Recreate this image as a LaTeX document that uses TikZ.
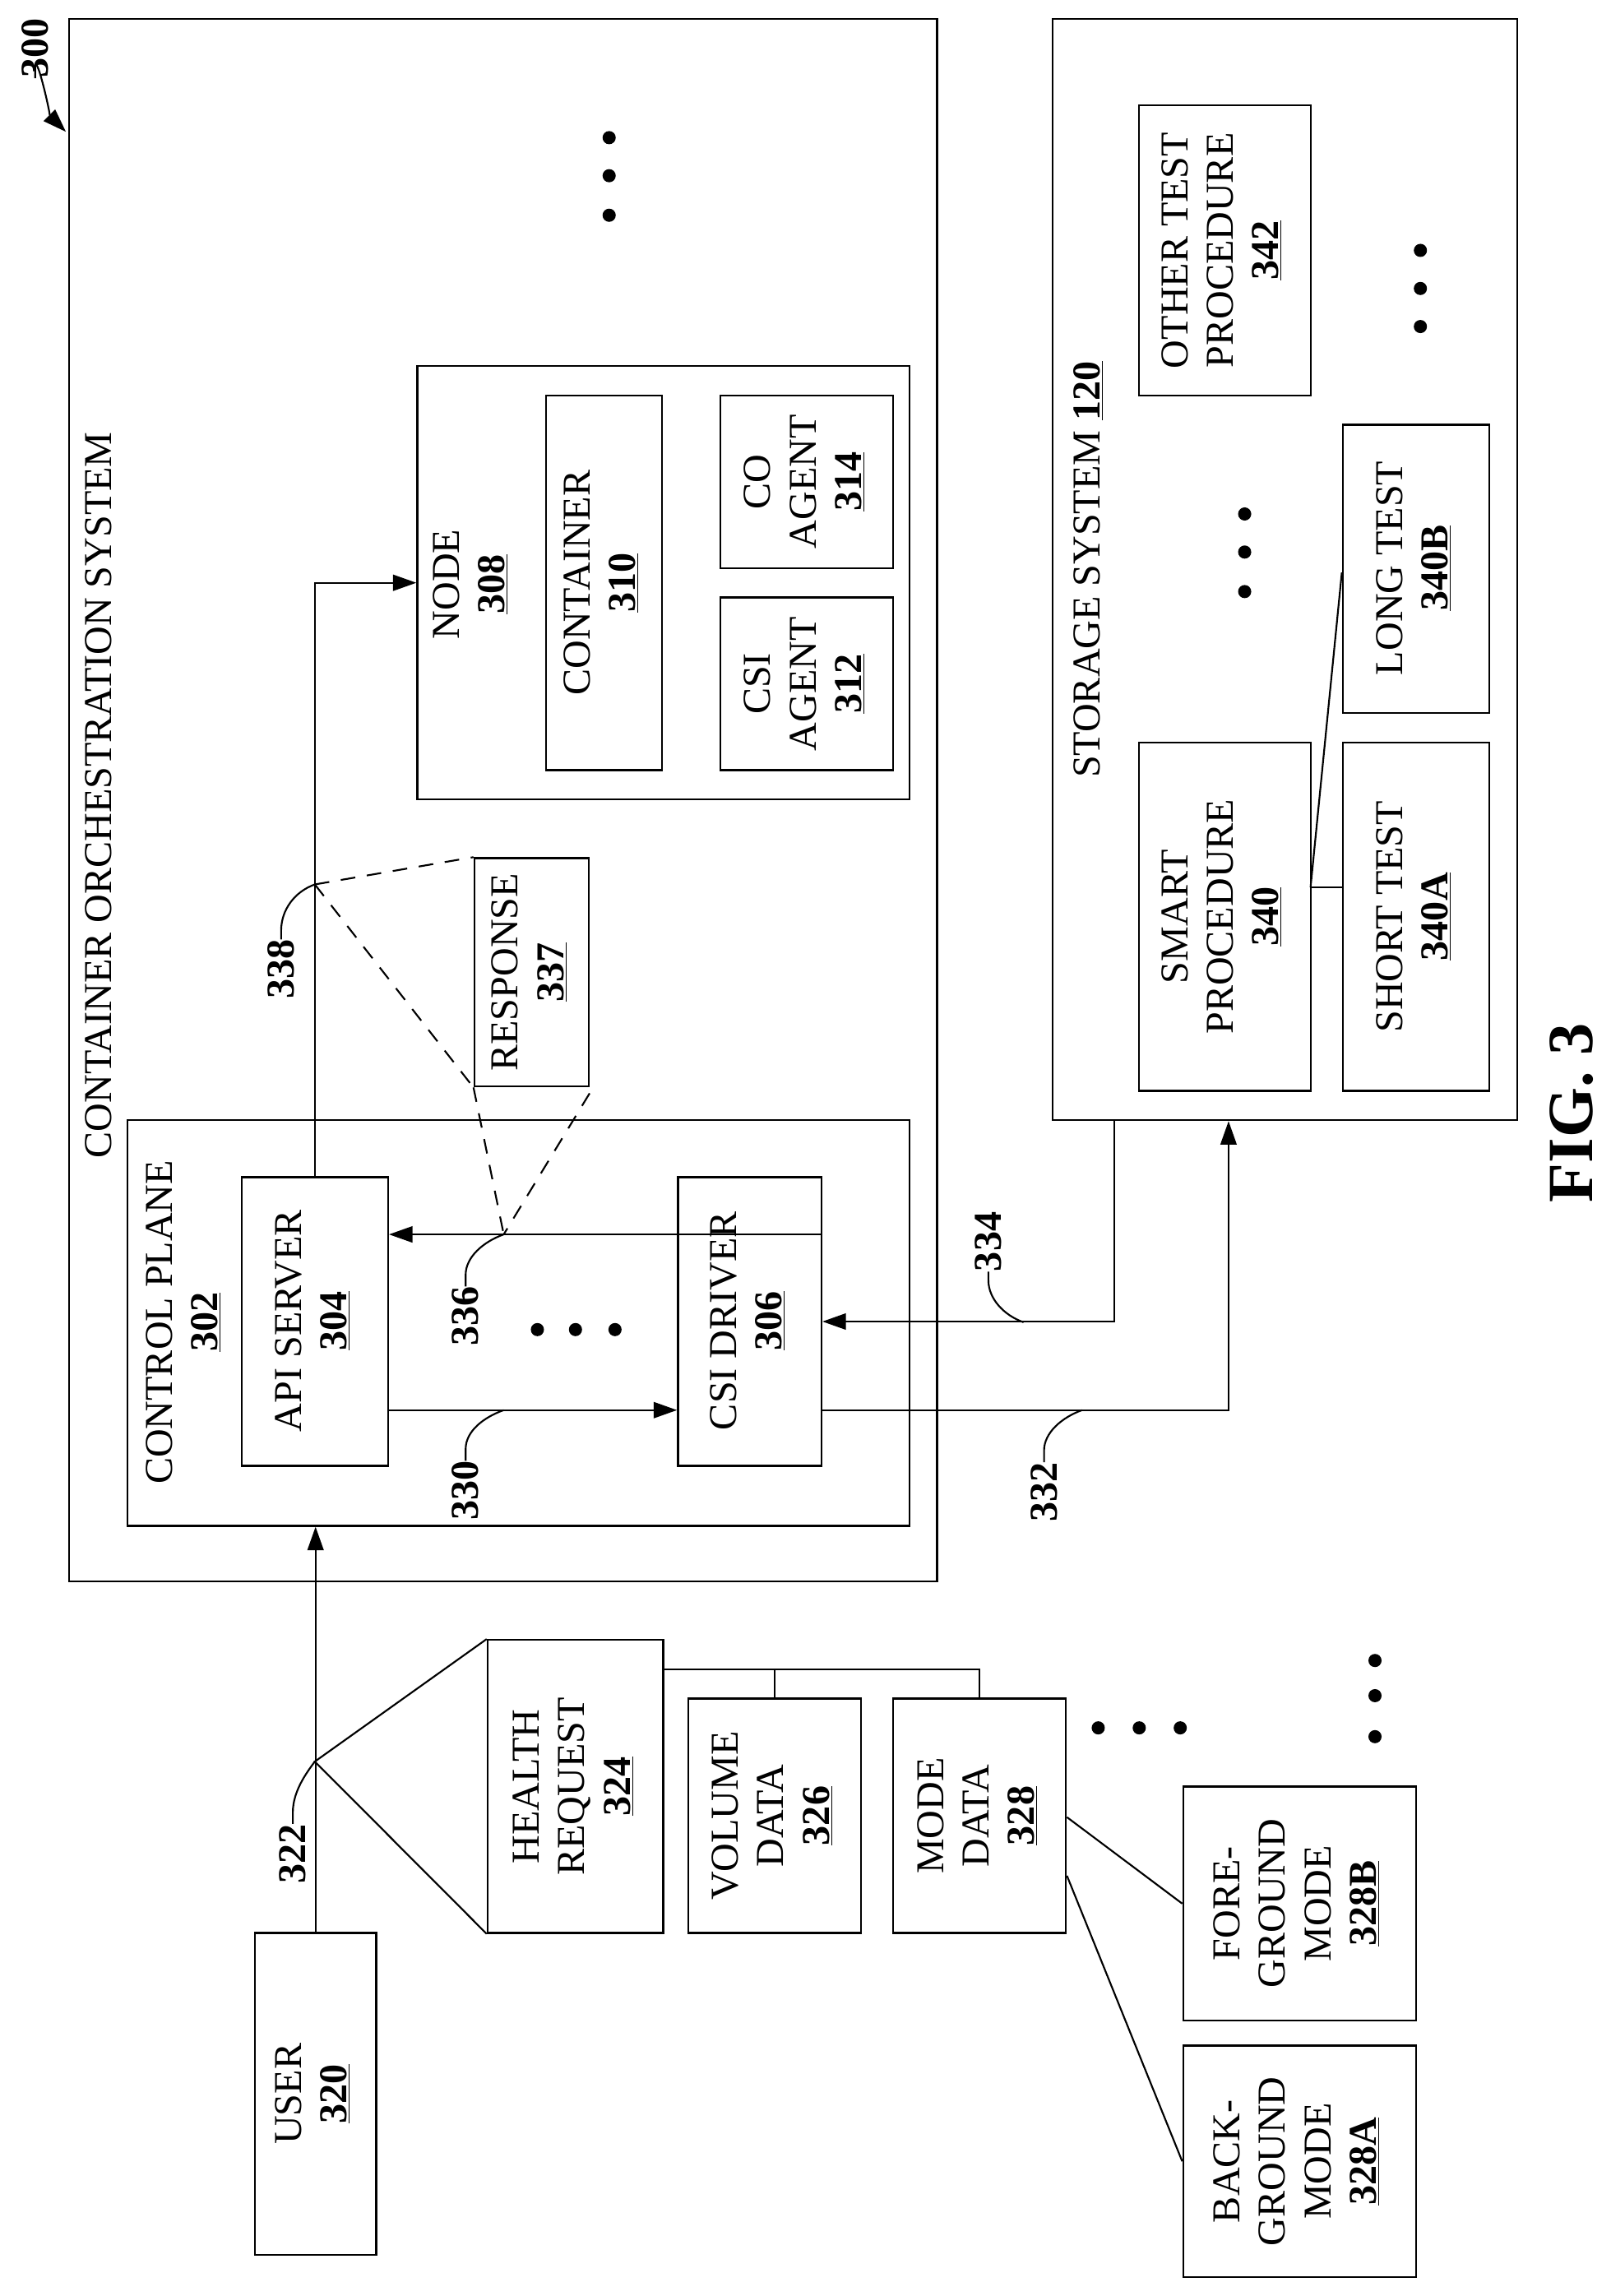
\documentclass[tikz,border=0pt]{standalone}
\usepackage{fontspec}
\setmainfont{Liberation Serif}
\usetikzlibrary{arrows.meta,calc}
\newcommand\ul[1]{\textbf{\underline{#1}}}
\newcommand\bx[6]{\node[box,minimum width={(#4-#2)*1pt},minimum height={(#5-#3)*1pt}] (#1) at ({(#2+#4)/2},{(#3+#5)/2}) {};}
\newcommand\rt[4]{\node[txt] (#1) at (#2,#3) {\rotatebox{90}{\begin{tabular}{@{}c@{}}#4\end{tabular}}};}
\begin{document}
\begin{tikzpicture}[x=1pt,y=-1pt,
  box/.style={draw,line width=1.3pt,inner sep=0pt},
  txt/.style={inner sep=0pt,font=\fontsize{27}{31}\selectfont},
  lab/.style={inner sep=0pt,font=\fontsize{27}{30}\selectfont\bfseries,rotate=90},
  arr/.style={line width=1.2pt,-{Triangle[length=16pt,width=11pt]}},
  ln/.style={line width=1.2pt},
  dsh/.style={line width=1.2pt,dash pattern=on 10pt off 8pt},
  dot/.style={circle,fill,inner sep=0pt,minimum size=9pt}]
\useasboundingbox (0,0) rectangle (1100,1568);
% outer boxes
\bx{cos}{47}{13}{640}{1080}{}
\rt{coslab}{70}{543}{CONTAINER ORCHESTRATION SYSTEM}
\bx{storage}{719}{13}{1036}{765}{}
\rt{stlab}{745}{389}{STORAGE SYSTEM \ul{120}}
% 300
\node[lab] (l300) at (24,33) {300};
\coordinate (t300) at (45,90);
\draw[arr] (l300.west) -- ++(0,-6) .. controls ++(0,-16) and ++(-10,-10) .. (t300);
% dots
\foreach \y in {94,120,147} \node[dot] at (416,\y) {};
% node 308
\bx{node}{285}{250}{621}{546}{}
\rt{nodelab}{323}{399}{NODE\\\ul{308}}
\bx{cont}{373}{270}{452}{526}{}
\rt{contl}{412}{398}{CONTAINER\\\ul{310}}
\bx{coag}{492}{270}{610}{388}{}
\rt{coagl}{551}{329}{CO\\AGENT\\\ul{314}}
\bx{csiag}{492}{408}{610}{526}{}
\rt{csiagl}{551}{467}{CSI\\AGENT\\\ul{312}}
% response
\bx{resp}{324}{586}{402}{742}{}
\rt{respl}{363}{664}{RESPONSE\\\ul{337}}
% control plane
\bx{cp}{87}{765}{621}{1042}{}
\rt{cpl}{127}{903}{CONTROL PLANE\\\ul{302}}
\bx{api}{165}{804}{265}{1001}{}
\rt{apil}{215}{902}{API SERVER\\\ul{304}}
\bx{csi}{463}{804}{561}{1001}{}
\rt{csil}{512}{902}{CSI DRIVER\\\ul{306}}
\foreach \x in {367,393,420} \node[dot] at (\x,908) {};
% storage inner
\bx{other}{778}{72}{895}{270}{}
\rt{otherl}{836}{171}{OTHER TEST\\PROCEDURE\\\ul{342}}
\bx{smart}{778}{507}{895}{745}{}
\rt{smartl}{836}{626}{SMART\\PROCEDURE\\\ul{340}}
\bx{short}{917}{507}{1017}{745}{}
\rt{shortl}{967}{626}{SHORT TEST\\\ul{340A}}
\bx{long}{917}{290}{1017}{487}{}
\rt{longl}{967}{388}{LONG TEST\\\ul{340B}}
\foreach \y in {351,377,404} \node[dot] at (850,\y) {};
\foreach \y in {171,197,223} \node[dot] at (970,\y) {};
\coordinate (sm) at (895,606);
\draw[ln] (sm) -- (917,606);
\draw[ln] (sm) -- (long.west |- 0,391);
% bottom
\bx{user}{174}{1320}{257}{1540}{}
\rt{userl}{215}{1430}{USER\\\ul{320}}
\bx{hr}{333}{1120}{453}{1320}{}
\rt{hrl}{393}{1220}{HEALTH\\REQUEST\\\ul{324}}
\bx{vol}{470}{1160}{588}{1320}{}
\rt{voll}{529}{1240}{VOLUME\\DATA\\\ul{326}}
\bx{mode}{610}{1160}{728}{1320}{}
\rt{model}{669}{1240}{MODE\\DATA\\\ul{328}}
\bx{fg}{808}{1220}{967}{1380}{}
\rt{fgl}{887}{1300}{FORE-\\GROUND\\MODE\\\ul{328B}}
\bx{bg}{808}{1397}{967}{1555}{}
\rt{bgl}{887}{1476}{BACK-\\GROUND\\MODE\\\ul{328A}}
\foreach \x in {750,778,806} \node[dot] at (\x,1180) {};
\foreach \y in {1134,1158,1186} \node[dot] at (939,\y) {};
\coordinate (br) at (453,1140);
\draw[ln] (br) -| (vol.north);
\draw[ln] (br) -| (mode.north);
\draw[ln] (mode.east |- 0,1241) -- (fg.west);
\draw[ln] (mode.east |- 0,1281) -- (bg.west);
\coordinate (p322) at (215,1203);
\draw[ln] (hr.north west) -- (p322) -- (hr.south west);
\draw[arr] (user.north) -- (user.north |- cp.south);
% connectors
\draw[arr] (api.north) |- (node.west);
\draw[arr] (api.east |- 0,963) -- (csi.west |- 0,963);
\draw[arr] (csi.east |- 0,843) -- (api.east |- 0,843);
\draw[arr] (csi.east |- 0,963) -| ([xshift=-38.5pt]storage.south);
\draw[arr] ([xshift=-116.5pt]storage.south) |- (csi.east);
% dashed
\coordinate (p338) at (215,604);
\coordinate (p336) at (344,843);
\draw[dsh] (p338) -- (resp.north west);
\draw[dsh] (p338) -- (resp.south west);
\draw[dsh] (resp.south west) -- (p336);
\draw[dsh] ([yshift=-4pt]resp.south east) -- (p336);
% reference labels
\node[lab] (l338) at (192,662) {338};
\draw[ln] (l338.east) -- ++(0,-6) .. controls ++(0,-14) and ++(-14,5) .. (p338);
\node[lab] (l336) at (318,899) {336};
\draw[ln] (l336.east) -- ++(0,-8) .. controls ++(0,-12) and ++(-14,5) .. (p336);
\coordinate (p330) at (344,963);
\node[lab] (l330) at (318,1018) {330};
\draw[ln] (l330.east) -- ++(0,-8) .. controls ++(0,-12) and ++(-14,5) .. (p330);
\node[lab] (l322) at (200,1266) {322};
\draw[ln] (l322.east) -- ++(0,-8) .. controls ++(0,-14) and ++(-6,8) .. (p322);
\coordinate (p332) at (739,963);
\node[lab] (l332) at (713,1019) {332};
\draw[ln] (l332.east) -- ++(0,-8) .. controls ++(0,-12) and ++(-14,5) .. (p332);
\coordinate (p334) at (699,903);
\node[lab] (l334) at (675,848) {334};
\draw[ln] (l334.west) -- ++(0,6) .. controls ++(0,12) and ++(-14,-5) .. (p334);
\node[inner sep=0pt,rotate=90,font=\fontsize{44}{46}\selectfont\bfseries] (fig) at (1073,760) {FIG. 3};
\end{tikzpicture}
\end{document}
